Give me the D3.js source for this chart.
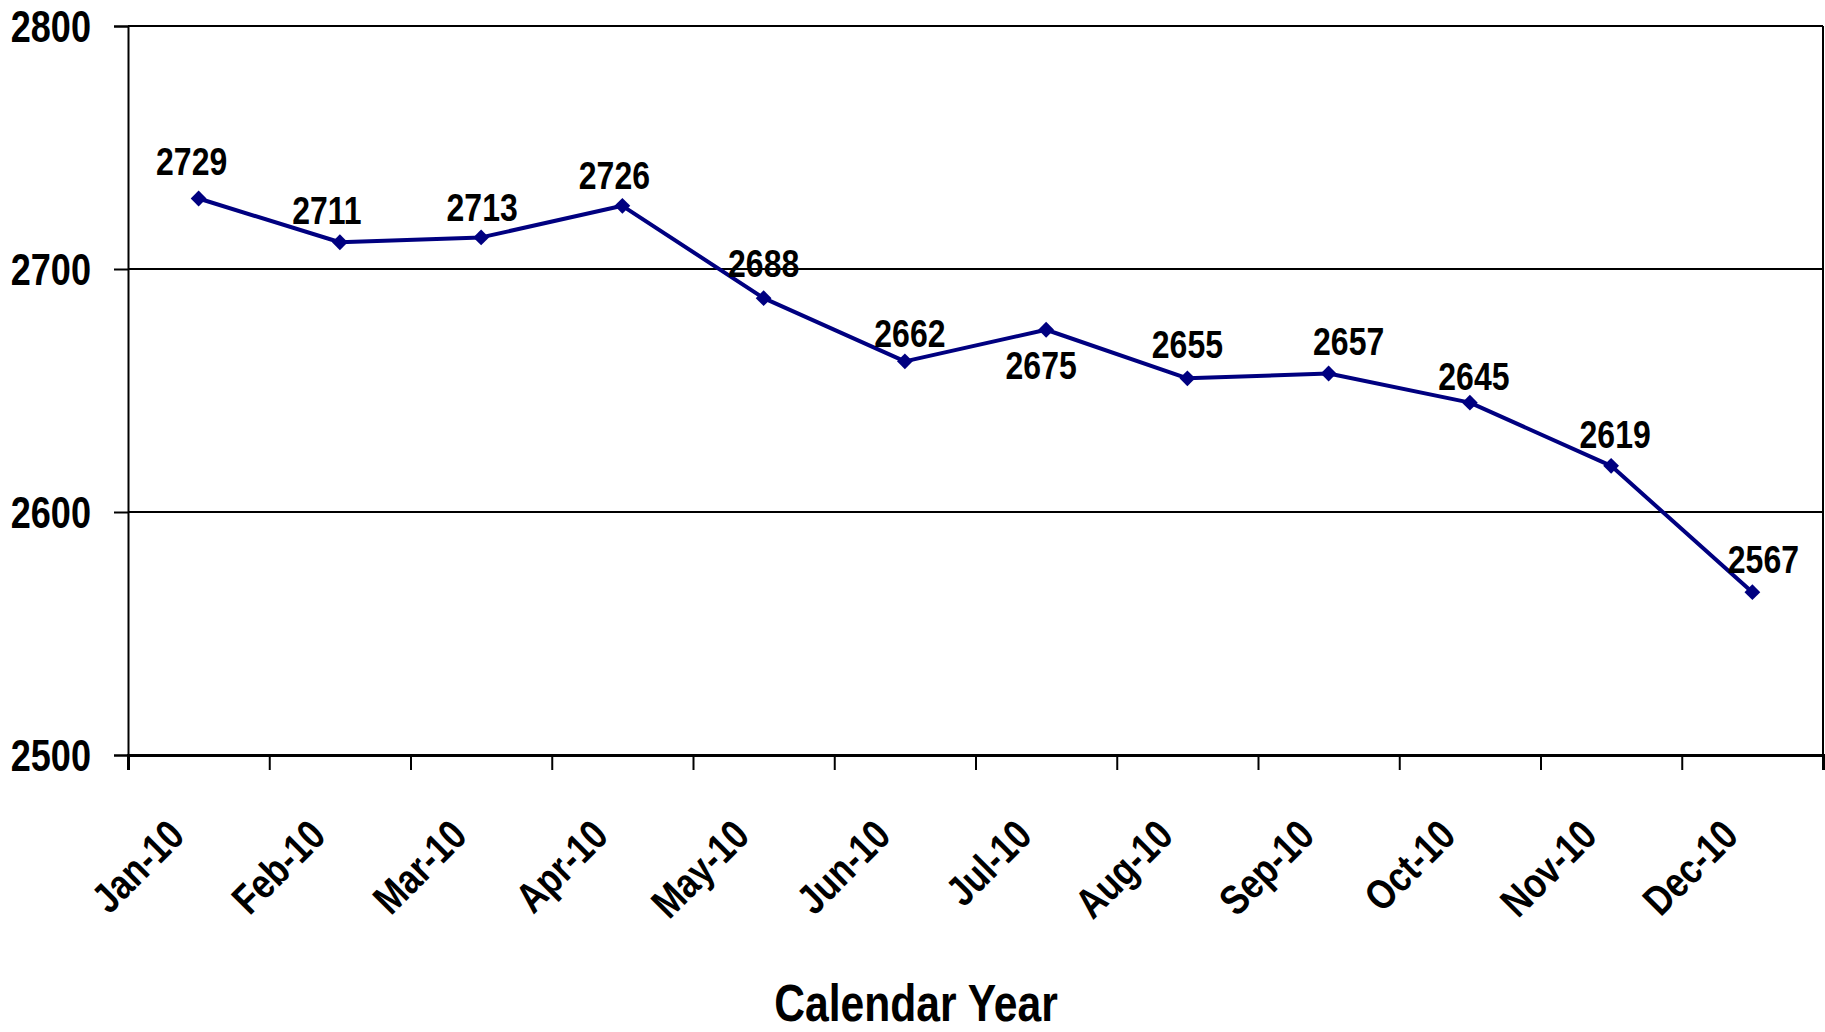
<!DOCTYPE html>
<html>
<head>
<meta charset="utf-8">
<script src="https://cdn.jsdelivr.net/npm/d3@7"></script>
<style>
  body { margin: 0; background: #fff; }
  text { font-family: "Liberation Sans", Arial, sans-serif; font-weight: bold; fill: #000; }
</style>
</head>
<body>
<div id="chart"></div>
<script>
const width = 1825,
    height = 1032;

// data
var months = ["Jan-10", "Feb-10", "Mar-10", "Apr-10", "May-10", "Jun-10",
              "Jul-10", "Aug-10", "Sep-10", "Oct-10", "Nov-10", "Dec-10"];
var values = [2729, 2711, 2713, 2726, 2688, 2662, 2675, 2655, 2657, 2645, 2619, 2567];
var yTicks = [2500, 2600, 2700, 2800];
var xTitle = "Calendar Year";

// hand placed value labels (dx, dy from the marker)
var labelNudge = [[-7, -24], [-13, -18], [1, -16], [-8, -17], [0, -21], [5, -14],
                  [-5, 49], [0, -20], [20, -18], [4, -13], [4, -18], [11, -19]];

// no narrow font installed, so squeeze Liberation Sans instead
var narrow = " scale(0.82,1)";

var mLeft = 128, mRight = 1823, mTop = 26, mBottom = 755;

var svg = d3.select("#chart").append("svg")
    .attr("width", width)
    .attr("height", height);

svg.append("rect")
    .attr("width", width)
    .attr("height", height)
    .attr("fill", "white");

var x = d3.scaleBand()
    .domain(months)
    .range([mLeft, mRight])
    .padding(0);

var xEdge = d3.scaleLinear()
    .domain([0, months.length])
    .range([mLeft, mRight]);

var y = d3.scaleLinear()
    .domain([2500, 2800])
    .range([mBottom, mTop]);

// grid lines + top border
svg.append("g")
    .selectAll("line")
    .data(yTicks.filter(d => d > 2500))
    .join("line")
    .attr("x1", mLeft)
    .attr("x2", mRight)
    .attr("y1", d => y(d))
    .attr("y2", d => y(d))
    .attr("stroke", "#000")
    .attr("stroke-width", 2);

// right border
svg.append("line")
    .attr("x1", mRight).attr("x2", mRight)
    .attr("y1", mTop).attr("y2", mBottom)
    .attr("stroke", "#000")
    .attr("stroke-width", 2);

var yAxis = svg.append("g")
    .attr("transform", "translate(" + mLeft + ",0)")
    .call(d3.axisLeft(y).tickValues(yTicks).tickSize(14).tickPadding(23).tickFormat(d3.format("d")));

yAxis.attr("font-family", null);
yAxis.select(".domain").attr("stroke-width", 2);
yAxis.selectAll(".tick line").attr("stroke-width", 2);
yAxis.selectAll(".tick text")
    .attr("x", 0)
    .attr("transform", "translate(-37,0)" + narrow)
    .attr("font-size", 44)
    .attr("dy", "0.36em");

var xAxis = svg.append("g")
    .attr("transform", "translate(0," + mBottom + ")")
    .call(d3.axisBottom(xEdge).tickValues(d3.range(months.length + 1)).tickSize(15).tickFormat(""));

xAxis.select(".domain").attr("stroke-width", 3);
xAxis.selectAll(".tick line").attr("stroke-width", 2);

svg.append("g")
    .selectAll("text")
    .data(months)
    .join("text")
    .attr("transform", d => "translate(" + (x(d) + x.bandwidth() / 2 - 12) + ",838) rotate(-45)" + narrow)
    .attr("text-anchor", "end")
    .attr("font-size", 42)
    .text(d => d);

svg.append("text")
    .attr("transform", "translate(916,1021)" + narrow)
    .attr("text-anchor", "middle")
    .attr("font-size", 52)
    .text(xTitle);

var line = d3.line()
    .x((d, i) => x(months[i]) + x.bandwidth() / 2)
    .y(d => y(d));

svg.append("path")
    .datum(values)
    .attr("fill", "none")
    .attr("stroke", "#000080")
    .attr("stroke-width", 4)
    .attr("stroke-linejoin", "round")
    .attr("d", line);

svg.append("g")
    .selectAll("path")
    .data(values)
    .join("path")
    .attr("d", d3.symbol(d3.symbolSquare, 125))
    .attr("transform", (d, i) => "translate(" + (x(months[i]) + x.bandwidth() / 2) + "," + y(d) + ") rotate(45)")
    .attr("fill", "#000080");

svg.append("g")
    .selectAll("text")
    .data(values)
    .join("text")
    .attr("transform", (d, i) => "translate(" + (x(months[i]) + x.bandwidth() / 2 + labelNudge[i][0]) + "," + (y(d) + labelNudge[i][1]) + ")" + narrow)
    .attr("text-anchor", "middle")
    .attr("font-size", 39)
    .text(d => d);
</script>
</body>
</html>
